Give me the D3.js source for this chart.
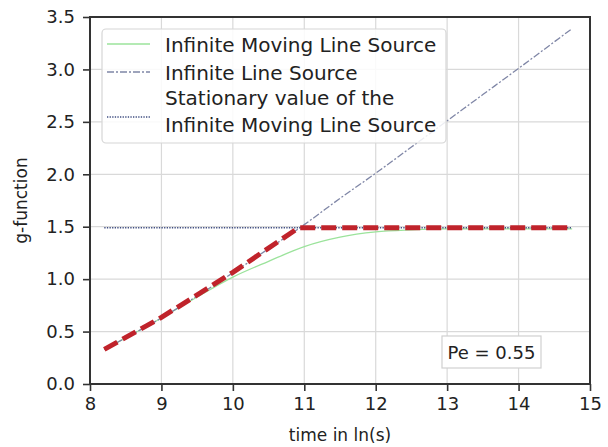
<!DOCTYPE html>
<html>
<head>
<meta charset="utf-8">
<script src="https://cdn.jsdelivr.net/npm/d3@7"></script>
<style>
  html, body { margin: 0; padding: 0; background: #fff; }
  svg { display: block; }
</style>
</head>
<body>
<script>
// Time axis in ln(s) and the g-function values of each model
const timeLn      = [8.2, 8.5, 9, 9.5, 10, 10.5, 11, 11.5, 12, 12.5, 13, 13.5, 14, 14.75];
const ilsValues   = [0.33, 0.44, 0.63, 0.84, 1.06, 1.29, 1.52, 1.77, 2.01, 2.26, 2.51, 2.76, 3.01, 3.39];
const milsValues  = [0.33, 0.44, 0.63, 0.83, 1.02, 1.17, 1.31, 1.40, 1.45, 1.47, 1.48, 1.48, 1.48, 1.48];
const stationaryValue = 1.49;
const stationaryRange = [8.2, 14.75];
// Combined approximation: line source until it meets the stationary value
const approxTime  = [8.2, 9, 10, 10.92, 14.75];
const approxValue = [0.33, 0.635, 1.065, 1.49, 1.49];

const xTicks = [8, 9, 10, 11, 12, 13, 14, 15];
const yTicks = [0.0, 0.5, 1.0, 1.5, 2.0, 2.5, 3.0, 3.5];
const legendLabels = [
  ["Infinite Moving Line Source"],
  ["Infinite Line Source"],
  ["Stationary value of the", "Infinite Moving Line Source"]
];
const annotation = "Pe = 0.55";

const W = 608, H = 447;
const m = { left: 90, right: 18, top: 17, bottom: 63 };
const svg = d3.select("body").append("svg").attr("width", W).attr("height", H);

const x = d3.scaleLinear().domain([8, 15]).range([m.left, W - m.right]);
const y = d3.scaleLinear().domain([0, 3.5]).range([H - m.bottom, m.top]);

const tickFont = "DejaVu Sans, sans-serif";

// grid
const grid = svg.append("g");
grid.selectAll(".gx").data(xTicks).join("line")
  .attr("x1", d => x(d)).attr("x2", d => x(d))
  .attr("y1", y(0)).attr("y2", y(3.5))
  .attr("stroke", "#d9d9d9").attr("stroke-width", 1.2);
grid.selectAll(".gy").data(yTicks).join("line")
  .attr("x1", x(8)).attr("x2", x(15))
  .attr("y1", d => y(d)).attr("y2", d => y(d))
  .attr("stroke", "#d9d9d9").attr("stroke-width", 1.2);

// axes
const xAxis = svg.append("g").attr("transform", `translate(0,${y(0)})`)
  .call(d3.axisBottom(x).tickValues(xTicks).tickFormat(d3.format("d")).tickSize(7).tickPadding(6));
const yAxis = svg.append("g").attr("transform", `translate(${x(8)},0)`)
  .call(d3.axisLeft(y).tickValues(yTicks).tickFormat(d3.format(".1f")).tickSize(7).tickPadding(8));
[xAxis, yAxis].forEach(g => {
  g.select(".domain").remove();
  g.selectAll(".tick line").attr("stroke", "#333").attr("stroke-width", 1.6);
  g.selectAll(".tick text").attr("fill", "#222").style("font-family", tickFont).style("font-size", "18px");
});

// frame
svg.append("rect")
  .attr("x", x(8)).attr("y", y(3.5))
  .attr("width", x(15) - x(8)).attr("height", y(0) - y(3.5))
  .attr("fill", "none").attr("stroke", "#333").attr("stroke-width", 2);

// axis titles
svg.append("text").attr("x", (x(8) + x(15)) / 2).attr("y", 441)
  .attr("text-anchor", "middle").attr("fill", "#222")
  .style("font-family", tickFont).style("font-size", "17px").text("time in ln(s)");
svg.append("text").attr("transform", `translate(27,${(y(0) + y(3.5)) / 2}) rotate(-90)`)
  .attr("text-anchor", "middle").attr("fill", "#222")
  .style("font-family", tickFont).style("font-size", "17px").text("g-function");

const line = d3.line().x(d => x(d[0])).y(d => y(d[1]));
const smooth = d3.line().x(d => x(d[0])).y(d => y(d[1])).curve(d3.curveMonotoneX);

const plot = svg.append("g");
// Infinite moving line source
plot.append("path").datum(d3.zip(timeLn, milsValues)).attr("d", smooth)
  .attr("fill", "none").attr("stroke", "#9be39b").attr("stroke-width", 1.3);
// Infinite line source
plot.append("path").datum(d3.zip(timeLn, ilsValues)).attr("d", smooth)
  .attr("fill", "none").attr("stroke", "#7f86a6").attr("stroke-width", 1.3)
  .attr("stroke-dasharray", "7,2,2,2");
// stationary value
plot.append("path").datum(stationaryRange.map(t => [t, stationaryValue])).attr("d", line)
  .attr("fill", "none").attr("stroke", "#3f4d80").attr("stroke-width", 1.3)
  .attr("stroke-dasharray", "1.3,1.3");
// combined approximation
plot.append("path").datum(d3.zip(approxTime, approxValue)).attr("d", line)
  .attr("fill", "none").attr("stroke", "#c0232b").attr("stroke-width", 5)
  .attr("stroke-dasharray", "15,6");

// legend
const lg = svg.append("g");
lg.append("rect").attr("x", 102).attr("y", 29).attr("width", 344).attr("height", 114)
  .attr("rx", 4).attr("fill", "#fff").attr("fill-opacity", 0.85)
  .attr("stroke", "#d6d6d6").attr("stroke-width", 1.2);
const legendStyles = [
  { stroke: "#9be39b", dash: null, lineY: 44, textY: [52] },
  { stroke: "#7f86a6", dash: "7,2,2,2", lineY: 72, textY: [80] },
  { stroke: "#3f4d80", dash: "1.3,1.3", lineY: 117, textY: [105, 131.5] }
];
legendStyles.forEach((s, i) => {
  lg.append("line").attr("x1", 107).attr("x2", 150).attr("y1", s.lineY).attr("y2", s.lineY)
    .attr("stroke", s.stroke).attr("stroke-width", 1.3)
    .attr("stroke-dasharray", s.dash);
  legendLabels[i].forEach((t, j) => {
    lg.append("text").attr("x", 165).attr("y", s.textY[j]).attr("fill", "#222")
      .style("font-family", tickFont).style("font-size", "20px").text(t);
  });
});

// annotation box
const ann = svg.append("g");
ann.append("rect").attr("x", 442).attr("y", 336).attr("width", 99).attr("height", 32)
  .attr("fill", "#fff").attr("stroke", "#d0d0d0").attr("stroke-width", 1.2);
ann.append("text").attr("x", 491.5).attr("y", 358.5).attr("text-anchor", "middle")
  .attr("fill", "#222").style("font-family", tickFont).style("font-size", "18px").text(annotation);
</script>
</body>
</html>
